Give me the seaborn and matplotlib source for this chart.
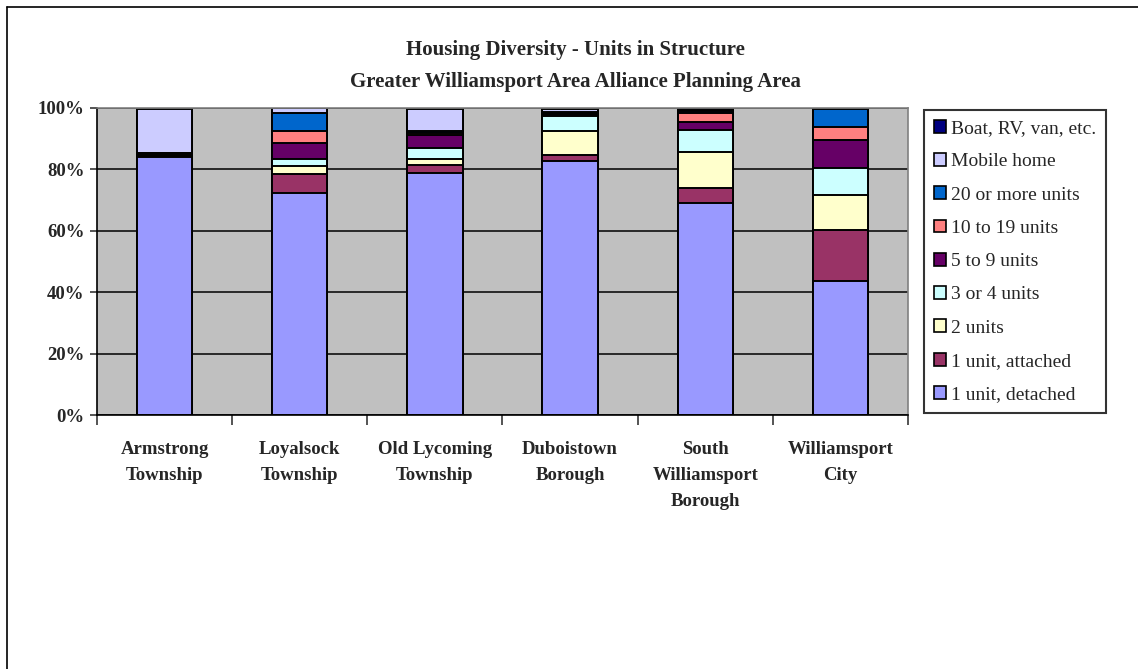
import matplotlib
matplotlib.use("Agg")
import matplotlib.pyplot as plt
from matplotlib.patches import Patch
from matplotlib.lines import Line2D
import numpy as np
import seaborn as sns

# Share of housing units by units-in-structure (percent of all units)
categories = ["Armstrong\nTownship", "Loyalsock\nTownship", "Old Lycoming\nTownship",
              "Duboistown\nBorough", "South\nWilliamsport\nBorough", "Williamsport\nCity"]

detached   = [83.9, 72.2, 78.9, 82.7, 69.0, 43.7]
attached   = [0.4, 6.3, 2.4, 2.0, 4.9, 16.5]
two_units  = [0.3, 2.6, 2.2, 7.9, 11.9, 11.6]
three_four = [0.3, 2.2, 3.6, 4.9, 7.1, 8.8]
five_nine  = [0.2, 5.2, 4.0, 0.6, 2.7, 9.1]
ten_19     = [0.2, 4.1, 0.8, 0.3, 2.9, 4.2]
twenty_up  = [0.2, 5.9, 0.5, 0.3, 0.5, 5.8]
mobile     = [14.3, 1.4, 7.2, 0.9, 0.5, 0.2]
boat       = [0.2, 0.1, 0.4, 0.4, 0.5, 0.1]

series_names = ["1 unit, detached", "1 unit, attached", "2 units", "3 or 4 units",
                "5 to 9 units", "10 to 19 units", "20 or more units", "Mobile home",
                "Boat, RV, van, etc."]
series_vals = [detached, attached, two_units, three_four, five_nine,
               ten_19, twenty_up, mobile, boat]
series_colors = ["#9999FF", "#993366", "#FFFFCC", "#CCFFFF", "#660066",
                 "#FF8080", "#0066CC", "#CCCCFF", "#000080"]

sns.set_style("white")
plt.rcParams["font.family"] = ["Liberation Serif", "DejaVu Serif"]

fig = plt.figure(figsize=(11.38, 6.69), dpi=100)
W, H = 1138, 669
ax = fig.add_axes([97 / W, 1 - 415 / H, 811 / W, 307 / H])
ax.set_facecolor("#C0C0C0")

# stacked bars: draw cumulative totals from the top segment down
cum = np.cumsum(np.array(series_vals), axis=0)
for i in range(len(series_vals) - 1, -1, -1):
    sns.barplot(x=categories, y=cum[i], color=series_colors[i], saturation=1,
                width=0.41, edgecolor="black", linewidth=1.4, ax=ax, zorder=2)

ax.set_ylim(0, 100)
ax.set_xlim(-0.5, 5.5)
ax.set_yticks([0, 20, 40, 60, 80, 100])
ax.set_yticklabels([f"{v}%" for v in [0, 20, 40, 60, 80, 100]],
                   fontsize=13.5, fontweight="bold")
ax.yaxis.grid(True, color="black", linewidth=1.1, zorder=0)
ax.set_axisbelow(True)
ax.tick_params(axis="y", length=5, width=1.1, direction="out", pad=4, left=True)

ax.set_xticks(range(len(categories)))
ax.set_xticklabels(categories, fontsize=13.5, fontweight="bold", linespacing=1.69, va="top")
ax.set_xticks(np.arange(-0.5, 6, 1), minor=True)
ax.tick_params(axis="x", which="major", length=0, pad=18.5)
ax.tick_params(axis="x", which="minor", length=7, width=1.1, direction="out", bottom=True)
ax.set_xlabel("")
ax.set_ylabel("")

for side in ["left", "bottom"]:
    ax.spines[side].set_color("black")
    ax.spines[side].set_linewidth(1.2)
for side in ["top", "right"]:
    ax.spines[side].set_color("#808080")
    ax.spines[side].set_linewidth(1.2)

fig.text(575 / W, 1 - 50 / H, "Housing Diversity - Units in Structure",
         ha="center", va="center", fontsize=15, fontweight="bold")
fig.text(575 / W, 1 - 82 / H, "Greater Williamsport Area Alliance Planning Area",
         ha="center", va="center", fontsize=15, fontweight="bold")

handles = [Patch(facecolor=series_colors[i], edgecolor="black", linewidth=1.2,
                 label=series_names[i]) for i in range(len(series_names) - 1, -1, -1)]
leg = fig.legend(handles=handles, loc="upper left",
                 bbox_to_anchor=(924 / W, 1 - 110 / H),
                 fontsize=14, frameon=True, fancybox=False,
                 handlelength=0.65, handleheight=0.65, handletextpad=0.25,
                 labelspacing=0.82, borderpad=0.5, borderaxespad=0)
leg.get_frame().set_edgecolor("black")
leg.get_frame().set_linewidth(1.5)

# chart border (top and left edges)
fig.add_artist(Line2D([7 / W, 1], [1 - 7 / H, 1 - 7 / H], color="black", linewidth=1.2))
fig.add_artist(Line2D([7 / W, 7 / W], [0, 1 - 7 / H], color="black", linewidth=1.2))

fig.savefig("out.png", dpi=100, facecolor="white")
